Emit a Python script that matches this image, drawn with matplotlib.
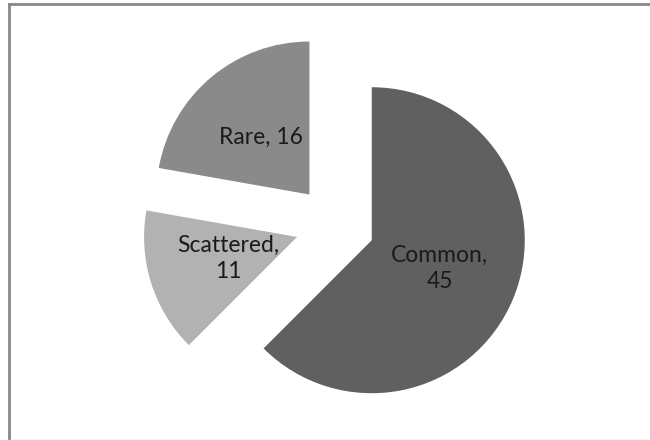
import matplotlib
matplotlib.use("Agg")
import numpy as np
import matplotlib.pyplot as plt
from matplotlib.lines import Line2D

# slice data, clockwise from 12 o'clock
names = ["Common", "Scattered", "Rare"]
counts = [45, 11, 16]
labels = ["Common,\n45", "Scattered,\n11", "Rare, 16"]
greys = ["#606060", "#b2b2b2", "#8a8a8a"]

plt.rcParams['font.family'] = ['Lato', 'DejaVu Sans']

fig = plt.figure(figsize=(6.5, 4.4), dpi=100)
ax = fig.add_axes([0, 0, 1, 1])
wedges, _ = ax.pie(counts, colors=greys, startangle=90, counterclock=False,
                   explode=[0.26] * 3, radius=1.0,
                   wedgeprops=dict(linewidth=0))

# label each slice inside, along its middle angle
label_dist = [0.48, 0.47, 0.49]
for w, lab, f in zip(wedges, labels, label_dist):
    ang = np.deg2rad((w.theta1 + w.theta2) / 2)
    cx, cy = w.center
    d = f * w.r
    ax.text(cx + d * np.cos(ang), cy + d * np.sin(ang), lab,
            ha="center", va="center", fontsize=16.5, color="#1a1a1a",
            linespacing=1.3)

# pixel layout: pie centre at (335, 225), radius 153 px
r_px = 153.0
ax.set_xlim(-335 / r_px, (650 - 335) / r_px)
ax.set_ylim(-(440 - 225) / r_px, 225 / r_px)
ax.axis("off")

# chart frame
fig.add_artist(Line2D([9 / 650, 9 / 650], [0, 1 - 4 / 440], transform=fig.transFigure,
                      color="#888888", lw=2))
fig.add_artist(Line2D([9 / 650, 1], [1 - 4 / 440, 1 - 4 / 440], transform=fig.transFigure,
                      color="#888888", lw=2))
fig.add_artist(Line2D([9 / 650, 1], [0.5 / 440, 0.5 / 440], transform=fig.transFigure,
                      color="#d0d0d0", lw=1))

fig.savefig("out.png", dpi=100)
